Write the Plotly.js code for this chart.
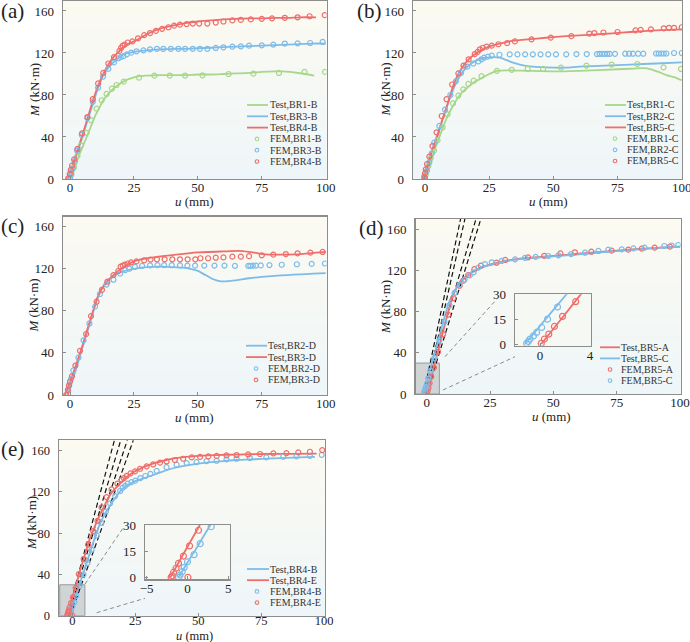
<!DOCTYPE html>
<html><head><meta charset="utf-8">
<script src="https://cdn.plot.ly/plotly-3.0.1.min.js"></script>
<style>html,body{margin:0;padding:0;background:#fff}#chart{width:690px;height:642px}</style>
</head><body><div id="chart"></div>
<script>
// ---------------- DATA ----------------
const xTicks = [0, 25, 50, 75, 100];
const yTicks = [0, 40, 80, 120, 160];
const insetDXTicks = [0, 4];
const insetEXTicks = [-5, 0, 5];
const insetYTicks = [0, 15, 30];
const panelLabels = ['(a)', '(b)', '(c)', '(d)', '(e)'];

// (a)
const a_BR1B_test_u = [-0.5,1,2,3.3,5,6.5,8,10,11.5,13,15,17,19,21,24,27,30,35,40,45,50,55,60,65,70,75,80,83,86,89,92,95.5];
const a_BR1B_test_M = [0,5,11,21,31,40,49,61,68,75,81,86,90,93,96,98,98.5,99,99,99,99.5,99.5,100,100.5,101,102,102.5,102.5,102,101,100,98.5];
const a_BR3B_test_u = [-0.8,1,3,5,7,9,11,13,15,17,19.5,22,25,28,32,36,40,45,50,55,60,65,70,75,80,85,90,95,100];
const a_BR3B_test_M = [0,11,26,41,57,72,87,99,106,111,116.5,119.5,121,122,123,123.5,124,124,124.5,125,125.5,126,126.5,127,127.5,128,128.5,129,129];
const a_BR4B_test_u = [-1.3,1,3,5,7,9,11,13,15,17,19,21,23,25,28,31,35,40,45,50,55,60,65,70,75,80,85,90,96.2];
const a_BR4B_test_M = [0,13,28,43,59,75,89,100,109,116,121,126,129,131,135,139,143,146,148.5,150,151,152,152.5,153,153,153.5,153.5,154,154];
const a_BR1B_fem_u = [0.5,1.5,2.9,4.3,6.5,8.2,10.4,12.4,14.3,16.4,18.2,21,27,33,39,45,51.8,62,71.7,81.7,91.7,99.7];
const a_BR1B_fem_M = [4,11,22,32,44,56,67,75,81,86,89.5,92.7,96.5,98.4,98.5,98.5,98.7,100,100.3,101,102,102];
const a_BR3B_fem_u = [0,0.5,1,1.8,2.8,4.6,6.8,8.9,11,12.9,15,17.2,18.9,19.8,20.9,22.2,23.9,26,28.7,31.3,34,36.5,39.4,42.4,45,48,50.8,53.7,57,60,63.5,66.8,70,75,79.5,84,89,93.9,98.8];
const a_BR3B_fem_M = [1,5,10,17,27,42,58,73.6,87,97.5,105,111,115,116,117,118.7,120.3,121.6,122.5,123.5,124,124,124,124,124,124,124,124,124.8,125.4,126,126.3,127,127.3,128,129,129.2,129.5,130.5];
const a_BR4B_fem_u = [-0.7,-0.1,0.3,0.8,1.6,2.9,4.7,6.8,8.9,11,13,15,17.2,19.3,20,20.6,21.4,22.6,24.4,26.6,29,31.3,33.6,36,38.5,40.7,43,45.6,48,50.5,53.7,57,60,63.5,66.8,70.7,75,79,84,89,93.7,99.6];
const a_BR4B_fem_M = [0.6,4.8,8.6,12.7,18.7,28.6,43.5,59,76,91,101,110,116,122,125,127,128,130,131,134,137,139,141,143,144.5,146,147,147.5,148,148,148,149,150,151,151.5,152,152.5,153,153.5,154,155,156];

// (b)
const b_BR1C_test_u = [-0.5,1,3,5,7,9,11,13,15,17,19,22,25,28,32,40,50,60,70,80,85,88,91,94,97,100];
const b_BR1C_test_M = [0,7,22,36,49,61,70,78,84,88,92,96,100,103,103.5,103,102.5,103,104,105,105.5,104.5,102,99,97,94];
const b_BR2C_test_u = [-1,1,3,6,9,12,15,18,21,24,27,29,31,34,37,40,45,50,55,60,70,80,90,100];
const b_BR2C_test_M = [0,12,29,51,72,91,103,110,114,115.5,116,115.5,114,111,109,107.5,106.5,106,106,107,108,109,110,111];
const b_BR5C_test_u = [-1,1,3,5,7,9,11,13,15,17,19,21,23,26,30,34,40,47,55,65,73,80,90,100];
const b_BR5C_test_M = [0,14,29,42,58,73,89,100,108,114,118,121.5,124,127,129.5,131.5,133,134.5,136,137.5,138.7,140,141.5,142.5];
const b_BR1C_fem_u = [0.3,1.3,2.2,3.5,4.9,6.9,8.8,10.9,13,14.9,16.9,19,22,28,33.8,40,46,53,62.9,72.7,82.7,92.9,99.7];
const b_BR1C_fem_M = [4,12.4,19.7,27,36.8,49.2,61.6,72,79.4,85.4,90.5,93.6,98,103,104,104.8,104.8,106,108,109,109.5,106.3,104.8];
const b_BR2C_fem_u = [0,0.8,1.7,2.6,3.6,5.6,7.8,9.9,12,14,16.5,18.8,20.8,22,23,24.5,26,29,33,36,39,42,45,48,51,55,59,63,67,68,69,70,71,72,74,78,79.5,81,83,85,90,91,92,93,94,97,100];
const b_BR2C_fem_M = [1,8,16,24.4,34.6,50.5,66,80,93,101,107,110,112,114,115.5,116.5,117.5,118.3,118.7,118.7,118.7,118.7,118.7,118.7,118.7,118.7,119,119,119,119.2,119.2,119.2,119.2,119.2,119.2,119.3,119.3,119.3,119.3,119.3,119.5,119.5,119.5,119.5,119.5,120,120];
const b_BR5C_fem_u = [0,-0.3,0,0.3,0.8,1.7,2.9,4.5,6.5,8.4,10.6,13,15,17,19.4,20.5,21.4,22.5,24,26,28.6,32,35,41.5,49,57,64,66,69.5,75,82,84,88,93,95,97,100];
const b_BR5C_fem_M = [0,2.2,5.4,9.2,14.3,21.3,31.4,44.4,60,76,90,100.6,108,114,119,121,123.5,125,126,127,128.3,129.5,131,133,134.6,136,138.5,139,139.5,140,141.5,142,142.5,143.5,144,144,144.5];

// (c)
const c_BR2D_test_u = [-1,0,2,5,8,11,14,17,20,25,30,35,40,44,47,50,53,56,59,62,66,70,75,80,85,90,95,100];
const c_BR2D_test_M = [0,8,22,46,70,94,106,113,117,120,121.5,122,121.5,121,120,118,114,110,108,108.3,109.5,111,112.3,113.3,114,114.7,115.3,115.8];
const c_BR3D_test_u = [-2,0,2,5,8,11,14,17,20,25,30,40,50,60,66,70,74,78,82,90,100];
const c_BR3D_test_M = [0,12,26,48,72,94,107,114,120,127,130,133,135.5,136.5,137,136,134.5,133.5,133.5,134,136];
const c_BR2D_fem_u = [-0.8,-0.3,0.4,1.3,3.3,5.3,7.6,9.8,11.7,14.3,17,19.6,21.6,23.2,25.4,28.2,31.3,34.2,36.8,39.8,43,45.9,48.9,52.5,56.5,60.4,64.5,69.7,70.5,71.5,72.7,74.6,78,82.8,88.7,94.5,99.7];
const c_BR2D_fem_M = [4.7,9.5,15.2,23.4,35.5,52,68,84,96,105,109.6,115.5,118.7,120,121.8,122.8,123.2,123.5,123.5,123.4,123.2,123,123,123,123,123,122.8,122.8,122.8,123,123,123.2,123.5,123.8,124.3,124.6,125];
const c_BR3D_fem_u = [-1.5,-0.8,-0.4,0,0.8,2.1,3.9,6.3,8.2,10.4,12.5,14.6,17,18.9,19.8,20.6,21.5,22.6,23.9,26,29,31.5,34,37,40,43,46,49,51,54,57,60,63.5,66.8,70,75,79.5,84.4,89,94,98.8];
const c_BR3D_fem_M = [0,4.8,8.9,12.7,18,28,42,58,75,88.7,100,107.7,114,117.9,122,123,124,125,126,127,128,128.8,129,129,129,129,129,129,130,130,130.5,130.8,131.5,131.5,132,132.8,133.4,134,134.7,135.3,136];

// (d)
const d_BR5A_test_u = [0.1,2,4,6,8,10,12,13.5,15,17,19,21,23,25,28,32,36,40,45,50,55,60,65,70,75,80,85,90,95,100];
const d_BR5A_test_M = [0,18,37,56,75,93,104,110,113,116.5,119.5,122,124,125.5,127.5,129.5,131,132,133,134,135,136,137,138,139,140,140.8,141.5,142.2,143];
const d_BR5C_test_u = [-1.2,1,3,5,7,9,11,13,14.5,16,18,20,22,25,28,32,36,40,45,50,55,60,65,70,75,80,85,90,95,100];
const d_BR5C_test_M = [0,20,38,56,74,90,100,107,111,114,118,121,123,125,127,129,130.5,131.5,132.5,133.5,134.5,135.5,136.5,137.5,138.5,139.5,140.5,141.5,142.3,143];
const d_BR5A_fem_u = [0.1,0.35,0.7,1.15,1.8,2.85,4.5,6.5,8.5,10.5,13,14.5,16.4,18.8,21.4,27.6,31,40,46.4,52.8,58.5,65,73,79.6,84.9,90,96];
const d_BR5A_fem_M = [0.4,3,6,10.6,16.7,25.6,41,58,77,93,105,110,115.4,121,124.4,127.3,130,132.5,134,136.4,137.4,138,139,140,141,142,143];
const d_BR5C_fem_u = [-1.07,-0.93,-0.8,-0.53,-0.27,0.13,0.6,1.4,3,5,7,9,11,13,15,17,18.5,20.4,23,25.7,29.6,34.9,38.8,43,48,52,57,62.5,67.8,71.7,77,81.6,86,93.8,96.7,99.3];
const d_BR5C_fem_M = [0.4,1.6,3,4.9,7,10,15,22.3,35,52,70,86,98,106,111,115,118,122.5,126,127.7,129,130.6,132,133,133.8,134.5,135.7,137,138.7,140,140.3,141.2,142,143.5,144,144.5];
// initial-stiffness reference lines (start u, end u; M from 0 to top)
const d_ref_u0 = [-1.2, -0.6, -1.0, 0.0];
const d_ref_u1 = [13.4, 15.1, 19.5, 21.4];
const d_ref_M = [0, 170];

// (e)
const e_BR4B_test_u = [-1.1,0,1,2.8,5,7,9,11,13,15,17,19,21,23,25,28,31,35,40,45,50,55,60,65,70,75,80,85,90,96.3];
const e_BR4B_test_M = [0,8.5,16,30,46,61,76,89,99,107,114,120.5,125,128,130.5,133,135.5,139,143,145.5,147.5,149,150,151,151.5,152,152.5,153,153.5,154];
const e_BR4E_test_u = [-2.1,0,1.5,3,5,7,9,10,12,15,18.9,22.9,28,32,37.4,41,45,50,57,65,77,88,97];
const e_BR4E_test_M = [0,17.5,30,43,59,75,87,92.8,103,117,128,137,143.8,147.5,151,152.8,154,155,155.8,156.3,156.8,157,157.2];
const e_BR4B_fem_u = [-1.1,-0.9,-0.65,-0.4,0,0.8,1.55,2.9,4.4,6,7.7,9.7,11.5,13.3,15,17,19,20,21,22,23.5,25,27,29,31,33.5,37.4,41.4,45.4,49.3,53.3,57.3,61.2,65.2,70.5,77,83.7,89,94.3,99];
const e_BR4B_fem_M = [0,1.3,3.2,5.7,8.9,13,19.3,29,40,51,64,78,90,101,109,116,121,124,126,128,129.5,131,133.5,135.5,137.5,140.5,144,146.5,148,149,150,150.3,151.6,152.2,152.9,153.5,154.2,154.5,155,156];
const e_BR4E_fem_u = [-2.0,-1.87,-1.7,-1.4,-1.1,-0.5,0.25,1.35,0.05,2.6,4.5,6.3,8.3,10,11.6,13.6,15.6,17.9,19.6,20.5,21.6,23.1,24.9,26.9,29.5,32.1,34.8,37.4,40.7,44,47.4,50.7,54,57.3,61.2,65.2,69.8,74.5,79.8,85,89.7,94.3,99.2];
const e_BR4E_fem_M = [0,0.9,2.9,5.2,8,12.2,18,27,0,40.4,55,69,82,92,105,115,122.5,128,132,133.5,135.7,138,140,142.5,144.8,146.7,148.4,149.6,151,152.2,153.5,154,154.5,155,155.5,155.8,156.4,156.8,157.4,157.7,158.4,159,160.6];
const e_ref_u0 = [-2.0, -1.5, -1.2, -0.8];
const e_ref_u1 = [16.7, 19.2, 21.8, 24.2];
const e_ref_M = [0, 170];

// ---------------- STYLE ----------------
const RED = '#ef6e6b', BLUE = '#7dbce9', GREEN = '#a6d78a';
const W = 690, H = 642;
const FONT = '"Liberation Serif", "Times New Roman", serif';
const PX = p => p / W, PY = p => 1 - p / H;

const panels = [
  {id:'', dom:[63,326.5,1,179], xr:[-2.74,100.3], yr:[0,169.5], tfs:13, xso:-4,
   tests:[['Test,BR1-B',a_BR1B_test_u,a_BR1B_test_M,GREEN],['Test,BR3-B',a_BR3B_test_u,a_BR3B_test_M,BLUE],['Test,BR4-B',a_BR4B_test_u,a_BR4B_test_M,RED]],
   fems:[['FEM,BR1-B',a_BR1B_fem_u,a_BR1B_fem_M,GREEN],['FEM,BR3-B',a_BR3B_fem_u,a_BR3B_fem_M,BLUE],['FEM,BR4-B',a_BR4B_fem_u,a_BR4B_fem_M,RED]],
   leg:{y0:105,dy:11.3,l0:247,l1:268,m:257,t:269}, lab:[0,11], yt:[34,90], xt:[195,201]},
  {id:'2', dom:[413,682,1,179], xr:[-4.67,100.1], yr:[0,169.5], tfs:13, xso:-4,
   tests:[['Test,BR1-C',b_BR1C_test_u,b_BR1C_test_M,GREEN],['Test,BR2-C',b_BR2C_test_u,b_BR2C_test_M,BLUE],['Test,BR5-C',b_BR5C_test_u,b_BR5C_test_M,RED]],
   fems:[['FEM,BR1-C',b_BR1C_fem_u,b_BR1C_fem_M,GREEN],['FEM,BR2-C',b_BR2C_fem_u,b_BR2C_fem_M,BLUE],['FEM,BR5-C',b_BR5C_fem_u,b_BR5C_fem_M,RED]],
   leg:{y0:105,dy:11.2,l0:605,l1:626,m:615,t:626}, lab:[356,11], yt:[384.5,90], xt:[548,202]},
  {id:'3', dom:[63,326.5,216.7,395], xr:[-2.74,100.3], yr:[0,169.5], tfs:13, xso:-4,
   tests:[['Test,BR2-D',c_BR2D_test_u,c_BR2D_test_M,BLUE],['Test,BR3-D',c_BR3D_test_u,c_BR3D_test_M,RED]],
   fems:[['FEM,BR2-D',c_BR2D_fem_u,c_BR2D_fem_M,BLUE],['FEM,BR3-D',c_BR3D_fem_u,c_BR3D_fem_M,RED]],
   leg:{y0:345.7,dy:11.4,l0:246,l1:267,m:256,t:267}, lab:[0,226], yt:[33.5,306], xt:[195,417.5]},
  {id:'4', dom:[415.5,680.5,219,394], xr:[-4.42,100.2], yr:[0,169.7], tfs:13, xso:-4,
   tests:[['Test,BR5-A',d_BR5A_test_u,d_BR5A_test_M,RED],['Test,BR5-C',d_BR5C_test_u,d_BR5C_test_M,BLUE]],
   fems:[['FEM,BR5-A',d_BR5A_fem_u,d_BR5A_fem_M,RED],['FEM,BR5-C',d_BR5C_fem_u,d_BR5C_fem_M,BLUE]],
   refs:[d_ref_u0,d_ref_u1,d_ref_M],
   inset:{id:'6', dom:[515,590.7,294.3,345.7], xr:[-2,4.05], yr:[-1,30], xt:insetDXTicks},
   conn:[[445,356.7,496.7,299.3],[443,390,515,356.7]],
   leg:{y0:347.3,dy:11.1,l0:600,l1:620,m:610,t:620}, lab:[358,227.5], yt:[385,307], xt:[551,416]},
  {id:'5', dom:[59,325,440,615.7], xr:[-5.28,100.3], yr:[0,170.4], tfs:12.5, xso:-7,
   tests:[['Test,BR4-B',e_BR4B_test_u,e_BR4B_test_M,BLUE],['Test,BR4-E',e_BR4E_test_u,e_BR4E_test_M,RED]],
   fems:[['FEM,BR4-B',e_BR4B_fem_u,e_BR4B_fem_M,BLUE],['FEM,BR4-E',e_BR4E_fem_u,e_BR4E_fem_M,RED]],
   refs:[e_ref_u0,e_ref_u1,e_ref_M],
   inset:{id:'7', dom:[145,230,525,579.3], xr:[-5.2,5.2], yr:[-1.15,30], xt:insetEXTicks},
   conn:[[85,584,124,526.7],[96.7,612.7,145,598.3]],
   leg:{y0:569,dy:11.2,l0:247,l1:269,m:257,t:269}, lab:[0,449], yt:[31,523], xt:[195,635.5]}
];

const traces = [];
const layout = {
  width: W, height: H, margin:{l:0,r:0,t:0,b:0},
  paper_bgcolor:'#ffffff', plot_bgcolor:'#f6f8f3',
  showlegend:false, shapes:[], annotations:[],
  font:{family:FONT, color:'#222'}
};

function axisCfg(dom, range, tickvals, anchor, isY, size, so){
  return {
    domain: dom, range: range, anchor: anchor, tickvals: tickvals,
    showgrid:false, zeroline:false, showline:true, mirror:true,
    linecolor:'#8d8d8d', linewidth:1.4, ticks:'inside', ticklen:3, tickwidth:1,
    tickcolor:'#8d8d8d', tickfont:{family:FONT, size:size, color:'#222'},
    ticklabelstandoff: isY ? 5 : so, ticklabeloverflow:'allow', fixedrange:true
  };
}

function addLine(u, M, color, xa, ya){
  traces.push({type:'scatter', mode:'lines', x:u, y:M, xaxis:xa, yaxis:ya,
    line:{color:color, width:1.8, shape:'spline', smoothing:0.5}, hoverinfo:'skip'});
}
function addPts(u, M, color, xa, ya, size){
  traces.push({type:'scatter', mode:'markers', x:u, y:M, xaxis:xa, yaxis:ya,
    marker:{symbol:'circle-open', size:size, color:color, line:{width:1.2, color:color}}, hoverinfo:'skip'});
}

const TOP = [252,250,241], BOT = [238,246,249];
const NB = 30;

panels.forEach((p, i) => {
  const xa = 'x' + p.id, ya = 'y' + p.id;
  const xk = 'xaxis' + p.id, yk = 'yaxis' + p.id;
  layout[xk] = axisCfg([PX(p.dom[0]), PX(p.dom[1])], p.xr, xTicks, ya, false, p.tfs, p.xso);
  layout[yk] = axisCfg([PY(p.dom[3]), PY(p.dom[2])], p.yr, yTicks, xa, true, p.tfs, 5);
  for (let k = 0; k < NB; k++) {
    const f = (k + 0.5) / NB;
    const c = BOT.map((b, j) => Math.round(b + (TOP[j] - b) * f));
    layout.shapes.push({type:'rect', xref:xa + ' domain', yref:ya + ' domain', x0:0, x1:1, y0:k/NB, y1:(k+1)/NB + 0.002,
      layer:'below', line:{width:0}, fillcolor:'rgb(' + c.join(',') + ')'});
  }
  if (p.refs) {
    const [u0s, u1s, Ms] = p.refs;
    u0s.forEach((u0, j) => {
      traces.push({type:'scatter', mode:'lines', x:[u0, u1s[j]], y:Ms, xaxis:xa, yaxis:ya,
        line:{color:'#111', width:1.2, dash:'5px,3px'}, hoverinfo:'skip'});
    });
    layout.shapes.push({type:'rect', xref:xa, yref:ya, x0:-5, x1:5, y0:0, y1:30, layer:'below',
      line:{color:'#9a9a9a', width:1}, fillcolor:'rgba(150,150,150,0.35)'});
  }
  p.tests.forEach(s => addLine(s[1], s[2], s[3], xa, ya));
  p.fems.forEach(s => addPts(s[1], s[2], s[3], xa, ya, 5));
  if (p.inset) {
    const q = p.inset, ixa = 'x' + q.id, iya = 'y' + q.id;
    layout['xaxis' + q.id] = axisCfg([PX(q.dom[0]), PX(q.dom[1])], q.xr, q.xt, iya, false, 13, -3);
    layout['yaxis' + q.id] = axisCfg([PY(q.dom[3]), PY(q.dom[2])], q.yr, insetYTicks, ixa, true, 13, 5);
    layout.shapes.push({type:'rect', xref:ixa + ' domain', yref:iya + ' domain', x0:0, x1:1, y0:0, y1:1,
      layer:'below', line:{width:0}, fillcolor:'rgb(246,248,245)'});
    p.tests.forEach(s => addLine(s[1], s[2], s[3], ixa, iya));
    p.fems.forEach(s => addPts(s[1], s[2], s[3], ixa, iya, 6));
    p.conn.forEach(c => layout.shapes.push({type:'line', xref:'paper', yref:'paper',
      x0:PX(c[0]), y0:PY(c[1]), x1:PX(c[2]), y1:PY(c[3]), line:{color:'#8a8a8a', width:1, dash:'4px,3px'}}));
  }
  const entries = p.tests.map(s => ['line', s[0], s[3]]).concat(p.fems.map(s => ['pt', s[0], s[3]]));
  entries.forEach((e, j) => {
    const y = p.leg.y0 + j * p.leg.dy;
    if (e[0] === 'line') {
      layout.shapes.push({type:'line', xref:'paper', yref:'paper', x0:PX(p.leg.l0), x1:PX(p.leg.l1), y0:PY(y), y1:PY(y),
        line:{color:e[2], width:1.8}});
    } else {
      layout.shapes.push({type:'circle', xref:'paper', yref:'paper', x0:PX(p.leg.m - 1.8), x1:PX(p.leg.m + 1.8),
        y0:PY(y + 1.8), y1:PY(y - 1.8), line:{color:e[2], width:1.1}, fillcolor:'rgba(0,0,0,0)'});
    }
    layout.annotations.push({xref:'paper', yref:'paper', x:PX(p.leg.t), y:PY(y), xanchor:'left', yanchor:'middle',
      text:e[1], showarrow:false, borderpad:0, font:{family:FONT, size:10, color:'#333'}});
  });
  layout.annotations.push({xref:'paper', yref:'paper', x:PX(p.lab[0]), y:PY(p.lab[1]), xanchor:'left', yanchor:'middle',
    text:panelLabels[i], showarrow:false, borderpad:0, font:{family:FONT, size:21, color:'#222'}});
  layout.annotations.push({xref:'paper', yref:'paper', x:PX(p.yt[0]), y:PY(p.yt[1]), xanchor:'center', yanchor:'middle',
    text:'<i>M</i> (kN·m)', textangle:-90, showarrow:false, borderpad:0, font:{family:FONT, size:13, color:'#222'}});
  layout.annotations.push({xref:'paper', yref:'paper', x:PX(p.xt[0]), y:PY(p.xt[1]), xanchor:'center', yanchor:'middle',
    text:'<i>u</i> (mm)', showarrow:false, borderpad:0, font:{family:FONT, size:p.tfs, color:'#222'}});
});

Plotly.newPlot('chart', traces, layout, {staticPlot:true, displayModeBar:false});
</script>
</body></html>
